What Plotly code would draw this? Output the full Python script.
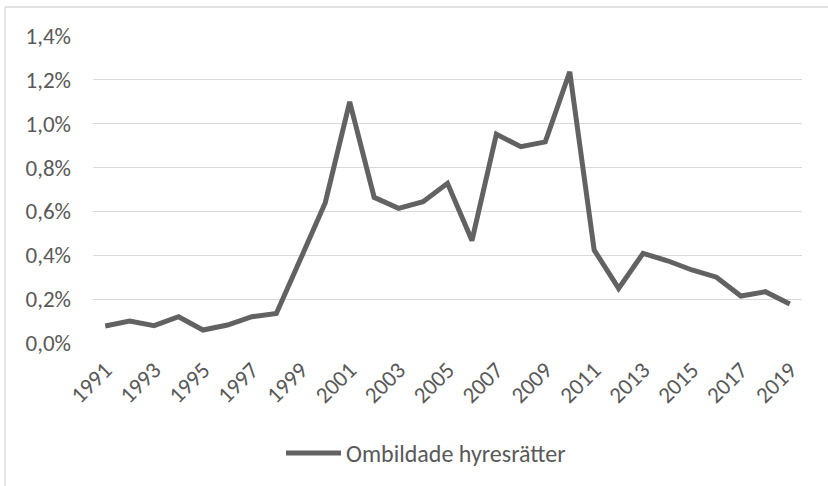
import plotly.graph_objects as go

years = list(range(1991, 2020))
values = [0.0775, 0.100, 0.079, 0.120, 0.059, 0.082, 0.120, 0.135, 0.386, 0.640,
          1.100, 0.664, 0.614, 0.644, 0.728, 0.467, 0.952, 0.895, 0.917, 1.237,
          0.424, 0.249, 0.409, 0.375, 0.333, 0.300, 0.214, 0.234, 0.178]
series_name = "Ombildade hyresrätter"
y_ticks = [0.0, 0.2, 0.4, 0.6, 0.8, 1.0, 1.2, 1.4]
y_ticklabels = ["0,0%", "0,2%", "0,4%", "0,6%", "0,8%", "1,0%", "1,2%", "1,4%"]
x_ticks = list(range(1991, 2020, 2))

W, H = 828, 486
L, R, T, B = 93, 26, 36, 143
pw, ph = W - L - R, H - T - B

def px(x):
    return (x - L) / pw

def py(y):
    return (H - B - y) / ph

FONT = "Carlito, Lato, sans-serif"
GRAY = "#595959"
LINE = "#626262"
FS = 23

fig = go.Figure()
fig.add_trace(go.Scatter(
    x=years, y=values, mode="lines", name=series_name, showlegend=False,
    line=dict(color=LINE, width=5, shape="linear"),
))

fig.update_layout(
    width=W, height=H,
    margin=dict(l=L, r=R, t=T, b=B),
    paper_bgcolor="white", plot_bgcolor="white",
    font=dict(family=FONT, color=GRAY, size=FS),
    showlegend=False,
    xaxis=dict(range=[1990.5, 2019.5], tickvals=x_ticks, ticktext=[str(v) for v in x_ticks],
               tickangle=-45, showgrid=False, zeroline=False, showline=False,
               ticks="", ticklabelstandoff=8, tickfont=dict(family=FONT, size=FS, color=GRAY)),
    yaxis=dict(range=[0, 1.4], tickvals=y_ticks, ticktext=y_ticklabels,
               showgrid=True, gridcolor="#d9d9d9", gridwidth=1.3, zeroline=False,
               showline=False, ticks="", ticklabelstandoff=21,
               tickfont=dict(family=FONT, size=FS, color=GRAY)),
    shapes=[
        dict(type="line", xref="paper", yref="paper", x0=px(5), x1=px(828), y0=py(7), y1=py(7),
             line=dict(color="#d9d9d9", width=1.3)),
        dict(type="line", xref="paper", yref="paper", x0=px(5), x1=px(5), y0=py(7), y1=py(486),
             line=dict(color="#d9d9d9", width=1.3)),
        # legend sample
        dict(type="line", xref="paper", yref="paper", x0=px(286), x1=px(341), y0=py(453), y1=py(453),
             line=dict(color=LINE, width=5)),
    ],
    annotations=[
        dict(text=series_name, xref="paper", yref="paper", x=px(344), y=py(453),
             xanchor="left", yanchor="middle", showarrow=False,
             font=dict(family=FONT, size=24, color=GRAY)),
    ],
)

fig.write_html("out.html", config={"displayModeBar": False},
               post_script="document.body.style.margin='0px';")
